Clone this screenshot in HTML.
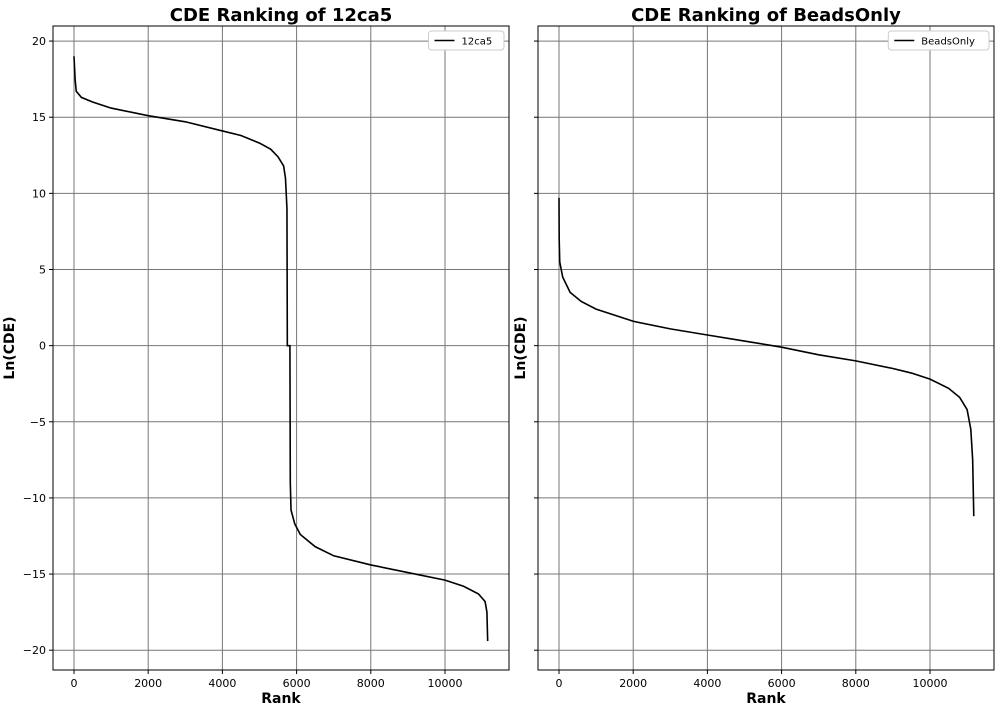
<!DOCTYPE html>
<html><head><meta charset="utf-8"><style>
body{margin:0;background:#fff;font-family:"Liberation Sans","DejaVu Sans",sans-serif}
</style></head><body>
<svg id="c" width="1000" height="712" xmlns="http://www.w3.org/2000/svg" style="font-family:'DejaVu Sans','Liberation Sans',sans-serif"></svg>
<script>
const xTicks=[0,2000,4000,6000,8000,10000];
const yTicks=[20,15,10,5,0,-5,-10,-15,-20];
const rank12ca5=[0,30,60,200,500,1000,2000,3000,4000,4500,5000,5300,5500,5650,5700,5740,5750,5820,5830,5850,5950,6100,6500,7000,8000,9000,10000,10500,10900,11080,11130,11150];
const cde12ca5=[19,17.5,16.7,16.3,16.0,15.6,15.1,14.7,14.1,13.8,13.3,12.9,12.4,11.8,11,9,0,0,-9,-10.8,-11.7,-12.4,-13.2,-13.8,-14.4,-14.9,-15.4,-15.8,-16.3,-16.8,-17.5,-19.4];
const rankBeads=[0,5,20,100,300,600,1000,2000,3000,4000,5000,6000,7000,8000,9000,9500,10000,10500,10800,11000,11100,11150,11180];
const cdeBeads=[9.7,7,5.5,4.5,3.5,2.9,2.4,1.6,1.1,0.7,0.3,-0.1,-0.6,-1.0,-1.5,-1.8,-2.2,-2.8,-3.4,-4.2,-5.5,-7.5,-11.2];
const svg=document.getElementById('c');const NS='http://www.w3.org/2000/svg';
function el(t,a,p){const e=document.createElementNS(NS,t);for(const k in a)e.setAttribute(k,a[k]);(p||svg).appendChild(e);return e;}
const axTop=26,axBot=670,yMin=-21.3,yMax=20.99;
function Y(v){return axTop+(yMax-v)/(yMax-yMin)*(axBot-axTop);}
function panel(L,R,title,xs,ys,label,showY,name){
  const xMin=-566,xMax=11725;
  const X=v=>L+(v-xMin)/(xMax-xMin)*(R-L);
  const g=el('g',{});
  
  
  xTicks.forEach(t=>{const x=X(t);
    const l=el('line',{x1:x,x2:x,y1:axTop,y2:axBot,stroke:'#777','stroke-width':1},g);
    
    
    el('line',{x1:x,x2:x,y1:axBot,y2:axBot+4,stroke:'#000'},g);
    const tx=el('text',{x:x,y:axBot+17,'text-anchor':'middle','font-size':11},g);tx.textContent=t;
    
    });
  yTicks.forEach(t=>{const y=Y(t);
    const l=el('line',{x1:L,x2:R,y1:y,y2:y,stroke:'#777','stroke-width':1},g);
    
    
    el('line',{x1:L-4,x2:L,y1:y,y2:y,stroke:'#000'},g);
    if(showY){const tx=el('text',{x:L-7,y:y+4,'text-anchor':'end','font-size':11},g);tx.textContent=t<0?'\u2212'+(-t):t;
    
    }});
  const p=el('polyline',{points:xs.map((v,i)=>X(v)+','+Y(ys[i])).join(' '),fill:'none',stroke:'#000','stroke-width':1.6},g);
  
  
  const f=el('rect',{x:L,y:axTop,width:R-L,height:axBot-axTop,fill:'none',stroke:'#000','stroke-width':1},g);
  
  
  const tt=el('text',{x:(L+R)/2,y:21,'text-anchor':'middle','font-size':18,'font-weight':'bold'},g);tt.textContent=title;
  
  
  const xl=el('text',{x:(L+R)/2,y:703,'text-anchor':'middle','font-size':14,'font-weight':'bold'},g);xl.textContent='Rank';
  
  
  const yl=el('text',{x:0,y:0,'text-anchor':'middle','font-size':14,'font-weight':'bold',transform:`translate(${showY?L-39:L-13},${(axTop+axBot)/2}) rotate(-90)`},g);yl.textContent='Ln(CDE)';
  
  
  const w=label.length*6.3+44;
  const lg=el('g',{},g);
  
  
  el('rect',{x:R-5-w,y:31,width:w,height:19,rx:3,fill:'#fff',stroke:'#ccc'},lg);
  el('line',{x1:R-w+1,x2:R-w+21,y1:40.5,y2:40.5,stroke:'#000','stroke-width':1.6},lg);
  const lt=el('text',{x:R-w+28,y:44.5,'font-size':10},lg);lt.textContent=label;
  
  
}
panel(53,509,'CDE Ranking of 12ca5',rank12ca5,cde12ca5,'12ca5',true,'panel-12ca5');
panel(538,994,'CDE Ranking of BeadsOnly',rankBeads,cdeBeads,'BeadsOnly',false,'panel-beadsonly');
</script>
</body></html>
